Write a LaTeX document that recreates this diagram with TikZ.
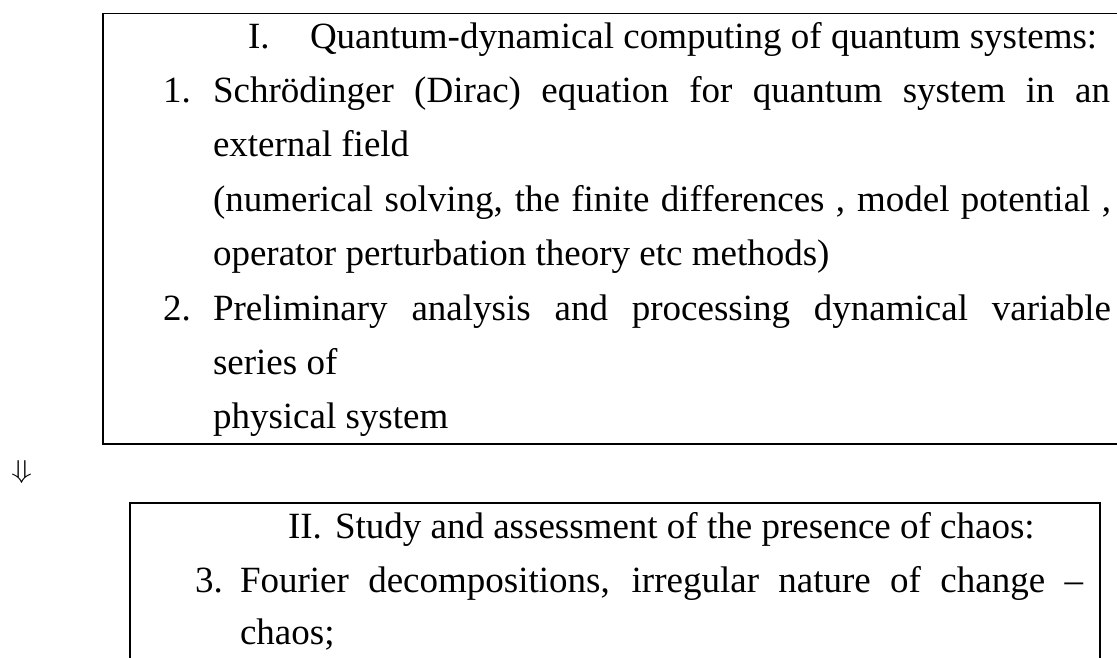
\documentclass[tikz,border=0pt]{standalone}
\usepackage{fontspec}
\setmainfont{Liberation Serif}
\begin{document}
\begin{tikzpicture}[x=1pt,y=-1pt,
  txt/.style={anchor=base west, inner sep=0pt, outer sep=0pt, font=\fontsize{37}{44}\selectfont},
  frame/.style={line width=1.3pt, draw=black}]
\clip (0,0) rectangle (1117,657);
\useasboundingbox (0,0) rectangle (1117,657);
% box I (right side runs off the page)
\draw[frame] (1130,13.5) -- (103,13.5) -- (103,444) -- (1130,444);
% box II (bottom runs off the page)
\draw[frame] (130,670) -- (130,503) -- (1100,503) -- (1100,670);
% box I text
\node[txt] (h1n) at (248,48) {I.};
\node[txt] (h1) at (310,48) {Quantum-dynamical computing of quantum systems:};
\node[txt] (n1) at (163,102) {1.};
\node[txt] (l1) at (213,102) {\makebox[897pt][s]{Schrödinger (Dirac) equation for quantum system in an}};
\node[txt] (l2) at (213,156.5) {external field};
\node[txt] (l3) at (213,211) {\makebox[898pt][s]{(numerical solving, the finite differences , model potential ,}};
\node[txt] (l4) at (213,265) {operator perturbation theory etc methods)};
\node[txt] (n2) at (163,320) {2.};
\node[txt] (l5) at (213,320) {\makebox[898pt][s]{Preliminary analysis and processing dynamical variable}};
\node[txt] (l6) at (213,374) {series of};
\node[txt] (l7) at (213,428) {physical system};
% arrow glyph
\node[anchor=north west, inner sep=0pt, outer sep=0pt] (arr) at (11,461) {\resizebox*{21pt}{23pt}{$\Downarrow$}};
% box II text
\node[txt] (h2n) at (288,538) {II.};
\node[txt] (h2) at (335,538) {Study and assessment of the presence of chaos:};
\node[txt] (n3) at (195,592) {3.};
\node[txt] (m1) at (240,592) {\makebox[843pt][s]{Fourier decompositions, irregular nature of change –}};
\node[txt] (m2) at (240,644) {chaos;};
\end{tikzpicture}
\end{document}
